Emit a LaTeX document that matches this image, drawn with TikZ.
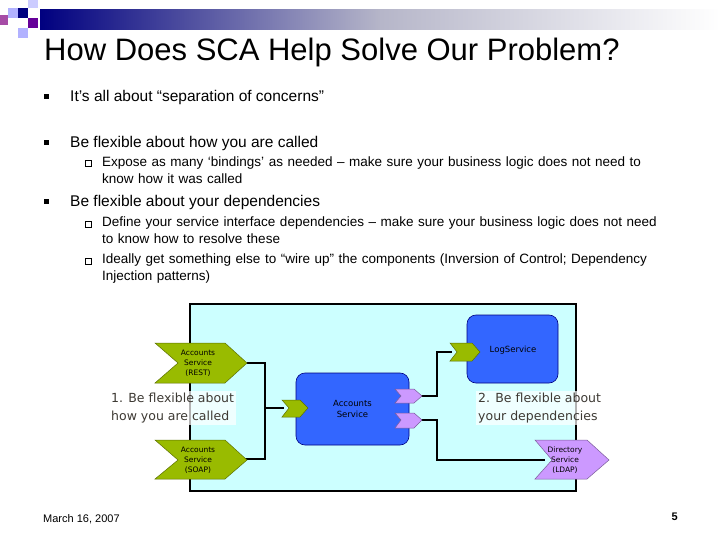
\documentclass[tikz,border=0pt]{standalone}
\usepackage{fontspec}
\setmainfont{Liberation Sans}
\newfontfamily\vfont{DejaVu Sans}
\definecolor{olv}{HTML}{99BB00}
\definecolor{lav}{HTML}{CC99FF}
\definecolor{sky}{HTML}{CCFFFF}
\definecolor{sblue}{HTML}{3366FF}
\begin{document}
\begin{tikzpicture}[x=1pt,y=-1pt,
  txt/.style={anchor=base west,inner sep=0pt,font=\fontsize{15.5}{19}\selectfont},
  stxt/.style={anchor=north west,inner sep=0pt,align=left,font=\fontsize{13.5}{17}\selectfont,text width=570pt},
  bul/.style={fill=black,minimum size=5pt,inner sep=0pt},
  sbul/.style={draw=black,line width=0.6pt,minimum size=6pt,inner sep=0pt},
  gch/.style={fill=olv,draw=olv!60!black,line width=0.5pt},
  pch/.style={fill=lav,draw=lav!60!black,line width=0.5pt},
  blu/.style={fill=sblue,draw=blue!50!black,line width=0.6pt,rounded corners=9pt},
  wire/.style={line width=1.5pt,black},
  ctxt/.style={font=\vfont\fontsize{7.5}{10}\selectfont,align=center,inner sep=0pt},
  lab/.style={fill=white,fill opacity=0.7,text opacity=1,font=\vfont\fontsize{12.5}{18}\selectfont,align=left,inner sep=2pt,text=black!75!yellow!50!black}
]
\useasboundingbox (0,0) rectangle (720,540);
\fill[white] (0,0) rectangle (720,540);
% header gradient
\shade[left color=blue!50!black,right color=white,middle color=blue!15!gray!50] (40,10) rectangle (720,30);
\fill[blue!50!black] (18,8) rectangle (28,18);
\fill[violet!80!blue] (28,18) rectangle (38,28);
\fill[blue!30!white] (8,8) rectangle (18,18);
\fill[blue!30!white] (18,28) rectangle (28,38);
\fill[violet!70] (0,15) rectangle (8,25);
\fill[blue!20] (28,0) rectangle (38,8);
\node[anchor=base west,inner sep=0pt,font=\fontsize{31}{34}\selectfont] (title) at (44,61) {How Does SCA Help Solve Our Problem?};
% bullets
\node[bul] (b1) at (46,97) {};
\node[txt] (t1) at (70,102) {It’s all about “separation of concerns”};
\node[bul] (b2) at (46,143) {};
\node[txt] (t2) at (70,148) {Be flexible about how you are called};
\node[sbul] (s1) at (88,163) {};
\node[stxt] (u1) at (102,157) {Expose as many ‘bindings’ as needed – make sure your business logic does not need to know how it was called};
\node[bul] (b3) at (46,202) {};
\node[txt] (t3) at (70,207) {Be flexible about your dependencies};
\node[sbul] (s2) at (88,224) {};
\node[stxt] (u2) at (102,217) {Define your service interface dependencies – make sure your business logic does not need to know how to resolve these};
\node[sbul] (s3) at (88,261) {};
\node[stxt] (u3) at (102,254) {Ideally get something else to “wire up” the components (Inversion of Control; Dependency Injection patterns)};
% diagram frame
\draw[fill=sky,line width=1.5pt] (190,304) rectangle (576,491);
% wires
\coordinate (j1) at (265,363);
\coordinate (j2) at (265,459);
\coordinate (j3) at (265,408);
\draw[wire] (247,363) -- (j1) -- (j2) -- (240,459);
\draw[wire] (j3) -- (284,408);
\draw[wire] (420,396) -- (437,396) -- (437,352) -- (452,352);
\draw[wire] (420,420) -- (437,420) -- (437,460) -- (545,460);
% boxes
\draw[blu] (296,373) rectangle node[ctxt,font=\vfont\fontsize{8.5}{11}\selectfont] (acc) {Accounts\\Service} (409,445);
\draw[blu] (467,315) rectangle (558,383);
\node[ctxt,font=\vfont\fontsize{8.5}{11}\selectfont] (log) at (513,350) {LogService};
% chevrons
\draw[gch] (155,343) -- (225,343) -- (247,363) -- (225,383) -- (155,383) -- (178,363) -- cycle;
\node[ctxt] (rest) at (198,363) {Accounts\\Service\\(REST)};
\draw[gch] (155,440) -- (225,440) -- (247,460) -- (225,479) -- (155,479) -- (178,460) -- cycle;
\node[ctxt] (soap) at (198,460) {Accounts\\Service\\(SOAP)};
\draw[gch] (282,400) -- (300,400) -- (308,408) -- (300,417) -- (282,417) -- (289,408) -- cycle;
\draw[gch] (450,343) -- (472,343) -- (480,352) -- (472,361) -- (450,361) -- (457,352) -- cycle;
\draw[pch] (395,389) -- (414,389) -- (422,396) -- (414,403) -- (395,403) -- (401,396) -- cycle;
\draw[pch] (395,413) -- (414,413) -- (422,420) -- (414,428) -- (395,428) -- (401,420) -- cycle;
\draw[pch] (535,440) -- (587,440) -- (609,460) -- (587,479) -- (535,479) -- (552,460) -- cycle;
\node[ctxt] (dir) at (565,460) {Directory\\Service\\(LDAP)};
% labels
\node[lab,anchor=north west] (l1) at (109,391) {1. Be flexible about\\how you are called};
\node[lab,anchor=north west] (l2) at (476,391) {2. Be flexible about\\your dependencies};
% footer
\node[anchor=base west,inner sep=0pt,font=\fontsize{11}{13}\selectfont] (date) at (43,522) {March 16, 2007};
\node[anchor=base east,inner sep=0pt,font=\bfseries\fontsize{11}{13}\selectfont] (pg) at (678,520) {5};
\end{tikzpicture}
\end{document}
